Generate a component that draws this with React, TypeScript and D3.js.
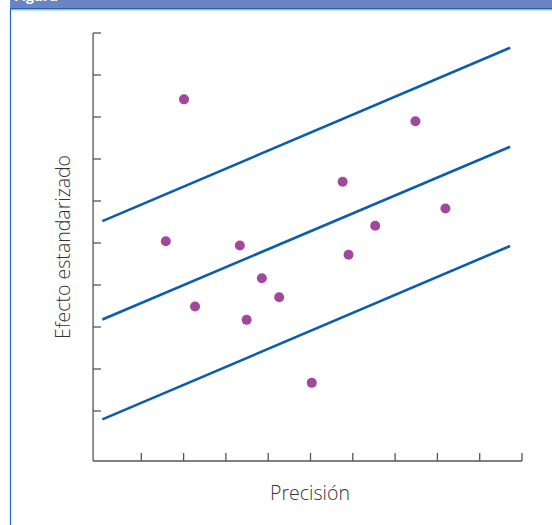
import * as d3 from 'd3';
import { useEffect, useRef } from 'react';

// dots: precision (x) vs standardized effect (y)
const pointX = [2.01, 1.58, 3.33, 3.85, 4.26, 2.27, 3.49, 5.03, 7.48, 5.76, 8.19, 6.53, 5.9];
const pointY = [8.42, 5.04, 4.94, 4.16, 3.71, 3.49, 3.17, 1.67, 7.9, 6.46, 5.82, 5.41, 4.72];

// the three parallel lines (start / end)
const lineX = [0.08, 9.72];
const upperY = [5.52, 9.65];
const middleY = [3.18, 7.29];
const lowerY = [0.8, 4.93];

const ticks = [1, 2, 3, 4, 5, 6, 7, 8, 9, 10];

export default function App() {
  const svgRef = useRef(null);

  useEffect(() => {
    if (!svgRef.current) return;
    const svg = d3.select(svgRef.current);
    svg.selectAll('*').remove();

    const W = 552;
    const H = 525;

    // frame / header (title is cropped at the top in the original)
    svg.append('rect').attr('x', 10).attr('y', 0).attr('width', W - 10).attr('height', 8).attr('fill', '#6b84c4');
    svg.append('text')
      .attr('x', 14).attr('y', 1)
      .attr('fill', '#fff')
      .attr('font-family', 'Open Sans, sans-serif')
      .attr('font-weight', 700)
      .attr('font-size', 14)
      .text('Figura');
    svg.append('rect').attr('x', 10).attr('y', 8).attr('width', W - 10).attr('height', 1.5).attr('fill', '#1f5fb8');
    svg.append('rect').attr('x', 10).attr('y', 9.5).attr('width', W - 10).attr('height', 1).attr('fill', '#9cc3ea');
    svg.append('line')
      .attr('x1', 10.5).attr('x2', 10.5).attr('y1', 8).attr('y2', H)
      .attr('stroke', '#1a6ed0').attr('stroke-width', 1.2);

    const x = d3.scaleLinear().domain([0, 10]).range([99, 522]);
    const y = d3.scaleLinear().domain([0, 10]).range([453, 33]);

    const axisColor = '#555';
    const g = svg.append('g');

    // y axis
    g.append('line')
      .attr('x1', x(-0.14)).attr('x2', x(-0.14))
      .attr('y1', y(-0.19)).attr('y2', y(10))
      .attr('stroke', axisColor).attr('stroke-width', 1.3);
    g.selectAll('line.yt')
      .data(ticks)
      .join('line')
      .attr('class', 'yt')
      .attr('x1', x(-0.14)).attr('x2', x(-0.14) + 8)
      .attr('y1', (d) => y(d)).attr('y2', (d) => y(d))
      .attr('stroke', axisColor).attr('stroke-width', 1.3);

    // x axis
    g.append('line')
      .attr('x1', x(-0.14)).attr('x2', x(10))
      .attr('y1', y(-0.19)).attr('y2', y(-0.19))
      .attr('stroke', axisColor).attr('stroke-width', 1.3);
    g.selectAll('line.xt')
      .data(ticks)
      .join('line')
      .attr('class', 'xt')
      .attr('x1', (d) => x(d)).attr('x2', (d) => x(d))
      .attr('y1', y(-0.19)).attr('y2', y(-0.19) - 8)
      .attr('stroke', axisColor).attr('stroke-width', 1.3);

    // lines
    const line = d3.line<number>()
      .x((_, i) => x(lineX[i]))
      .y((d) => y(d));
    [upperY, middleY, lowerY].forEach((ys) => {
      g.append('path')
        .attr('d', line(ys))
        .attr('fill', 'none')
        .attr('stroke', '#0a5eac')
        .attr('stroke-width', 2.6);
    });

    // points
    g.selectAll('circle')
      .data(pointX)
      .join('circle')
      .attr('cx', (d) => x(d))
      .attr('cy', (_, i) => y(pointY[i]))
      .attr('r', 5)
      .attr('fill', '#a2479d');

    // labels
    svg.append('text')
      .attr('x', 310).attr('y', 500)
      .attr('text-anchor', 'middle')
      .attr('font-family', 'Open Sans, sans-serif')
      .attr('font-weight', 300)
      .attr('font-size', 19.5)
      .attr('fill', '#333')
      .text('Precisión');
    svg.append('text')
      .attr('transform', 'translate(70,247) rotate(-90)')
      .attr('text-anchor', 'middle')
      .attr('font-family', 'Open Sans, sans-serif')
      .attr('font-weight', 300)
      .attr('font-size', 19.5)
      .attr('fill', '#333')
      .text('Efecto estandarizado');
  }, []);

  return (
    <svg
      ref={svgRef}
      width={552}
      height={525}
      style={{ position: 'absolute', left: 0, top: 0, background: '#fff' }}
    />
  );
}
